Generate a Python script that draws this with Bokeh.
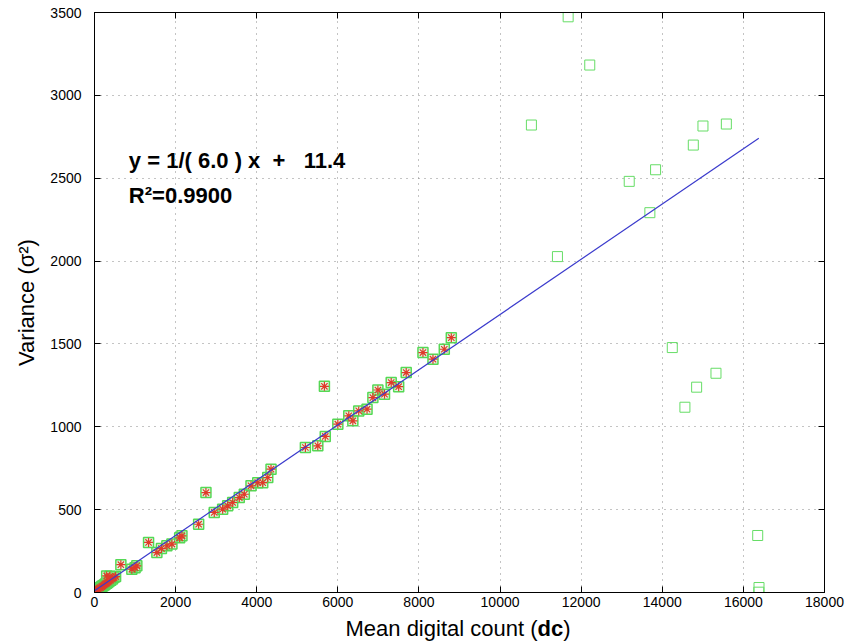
from bokeh.plotting import figure
from bokeh.layouts import column
from bokeh.models import Range1d, FixedTicker, LinearAxis, Label, CustomJSTickFormatter, ColumnDataSource
from bokeh.embed import file_html
from bokeh.resources import INLINE

# ---- data ----
x_ticks = [0, 2000, 4000, 6000, 8000, 10000, 12000, 14000, 16000, 18000]
y_ticks = [0, 500, 1000, 1500, 2000, 2500, 3000, 3500]

# points in the linear region (green square + red star)
lin_x = [30, 60, 90, 120, 150, 180, 210, 240, 270, 300, 330, 360, 400, 440, 480, 520, 300, 380,
         650, 921, 1000, 1044, 1333, 1538, 1650, 1785, 1909, 2100, 2156,
         2568, 2748, 2953, 3160, 3284, 3407, 3570, 3694, 3859, 4025, 4148, 4272, 4353,
         5200, 5506, 5690, 5669, 6000, 6270, 6370, 6515, 6720, 6864, 6988, 7151, 7316,
         7500, 7686, 8099, 8346, 8625, 8798]
lin_y = [8, 14, 20, 26, 30, 36, 40, 46, 52, 56, 62, 68, 74, 82, 90, 96, 100, 98,
         168, 141, 150, 161, 302, 241, 265, 282, 292, 330, 342,
         412, 603, 483, 503, 523, 543, 573, 593, 644, 663, 663, 694, 744,
         875, 885, 942, 1244, 1016, 1066, 1036, 1096, 1106, 1176, 1222, 1197, 1267,
         1242, 1327, 1448, 1408, 1468, 1538]

# saturated / outlier points (green squares only)
out_x = [11679, 12212, 10773, 11415, 13185, 13835, 13694, 14765, 15003, 15580,
         14247, 15324, 14847, 14558, 16353, 16385, 16380]
out_y = [3474, 3183, 2821, 2027, 2481, 2551, 2292, 2700, 2815, 2827,
         1478, 1323, 1239, 1118, 344, 30, 2]

# fitted line end points
fit_x = [0, 16380]
fit_y = [11, 2741]

eq_text = "y = 1/( 6.0 ) x\u00a0 +\u00a0\u00a0 11.4"
r2_text = "R\u00b2=0.9900"

FONT = "Liberation Sans"
LEFT, RIGHT, FW = 94, 26, 730

p = figure(title=None, frame_width=FW, frame_height=580,
           x_range=Range1d(0, 18000), y_range=Range1d(0, 3500),
           output_backend="svg", toolbar_location=None,
           min_border_left=LEFT, min_border_right=RIGHT, min_border_top=12, min_border_bottom=24,
           background_fill_color="white", border_fill_color="white")
p.outline_line_color = "black"
p.outline_line_width = 1

for ax, ticks in ((p.xaxis[0], x_ticks), (p.yaxis[0], y_ticks)):
    ax.ticker = FixedTicker(ticks=ticks)
    ax.major_tick_in = 6
    ax.major_tick_out = 0
    ax.minor_tick_in = 0
    ax.minor_tick_out = 0
    ax.axis_line_color = "black"
    ax.major_tick_line_color = "black"
    ax.major_label_text_font = FONT
    ax.major_label_text_font_size = "14px"
    ax.major_label_text_color = "black"

p.xaxis.major_label_standoff = 4
p.yaxis.major_label_standoff = 13
p.yaxis.axis_label = "Variance (\u03c3\u00b2)"
p.yaxis.axis_label_text_font = FONT
p.yaxis.axis_label_text_font_size = "22px"
p.yaxis.axis_label_text_font_style = "normal"
p.yaxis.axis_label_text_color = "black"
p.yaxis.axis_label_standoff = 8

# box ticks on top / right
for side, ticks in (("above", x_ticks), ("right", y_ticks)):
    ax = LinearAxis(ticker=FixedTicker(ticks=ticks),
                    formatter=CustomJSTickFormatter(code="return ''"),
                    major_tick_in=6, major_tick_out=0, minor_tick_in=0, minor_tick_out=0,
                    major_label_standoff=0, major_label_text_font_size="0px",
                    axis_line_color="black", major_tick_line_color="black")
    p.add_layout(ax, side)

for g, ticks in ((p.xgrid[0], x_ticks), (p.ygrid[0], y_ticks)):
    g.ticker = FixedTicker(ticks=ticks)
    g.grid_line_color = "#888888"
    g.grid_line_dash = "1 5"
    g.grid_line_width = 1

lin = ColumnDataSource(dict(x=lin_x, y=lin_y))
out = ColumnDataSource(dict(x=out_x, y=out_y))
fit = ColumnDataSource(dict(x=fit_x, y=fit_y))

p.scatter("x", "y", source=lin, marker="square", size=10, fill_color="#aaf0aa", fill_alpha=0.35,
          line_color="#55d855", line_width=1.5)
p.scatter("x", "y", source=out, marker="square", size=10, fill_color=None,
          line_color="#66dd66", line_width=1)
p.scatter("x", "y", source=lin, marker="asterisk", size=9,
          line_color="#e03a2a", line_width=1.2)
p.line("x", "y", source=fit, line_color="#3a3acc", line_width=1.2)

# equation annotation
p.add_layout(Label(x=847, y=2604, text=eq_text, text_font=FONT, text_font_style="bold",
                   text_font_size="22px", text_baseline="middle", text_color="black"))
p.add_layout(Label(x=847, y=2393, text=r2_text, text_font=FONT, text_font_style="bold",
                   text_font_size="22px", text_baseline="middle", text_color="black"))

# strip below the plot holding the x axis label (with bold "dc"); same horizontal frame as p
q = figure(title=None, frame_width=FW, frame_height=28,
           x_range=Range1d(0, 18000), y_range=Range1d(0, 28),
           output_backend="svg", toolbar_location=None, x_axis_type=None, y_axis_type=None,
           min_border_left=LEFT, min_border_right=RIGHT, min_border_top=0, min_border_bottom=0,
           background_fill_color="white", border_fill_color="white")
q.outline_line_color = None
q.grid.visible = False
XL_Y = 15.6
q.add_layout(Label(x=10923, y=XL_Y, text="Mean digital count (", text_font=FONT,
                   text_font_size="22px", text_align="right", text_baseline="middle",
                   text_color="black"))
q.add_layout(Label(x=10923, y=XL_Y, text="dc", text_font=FONT, text_font_style="bold",
                   text_font_size="22px", text_align="left", text_baseline="middle",
                   text_color="black"))
q.add_layout(Label(x=11557, y=XL_Y, text=")", text_font=FONT,
                   text_font_size="22px", text_align="left", text_baseline="middle",
                   text_color="black"))

layout = column(p, q, spacing=0)
open("out.html", "w").write(file_html(layout, INLINE))
